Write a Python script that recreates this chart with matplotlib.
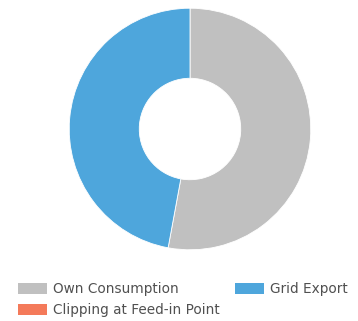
import matplotlib.pyplot as plt
from matplotlib.patches import Patch

# energy split shown in the donut (percent of PV yield)
labels = ["Own Consumption", "Clipping at Feed-in Point", "Grid Export"]
shares = [52.9, 0.0, 47.1]
colors = ["#c0c0c0", "#f47a5a", "#4ea6dc"]

W, H = 358, 321
fig = plt.figure(figsize=(W / 100, H / 100), dpi=100)

cx, cy, r = 190, 129, 122
ax = fig.add_axes([(cx - r) / W, (H - cy - r) / H, 2 * r / W, 2 * r / H])
ax.pie(
    [shares[0], shares[2]],
    colors=[colors[0], colors[2]],
    startangle=90,
    counterclock=False,
    radius=1,
    wedgeprops=dict(width=0.58, edgecolor="white", linewidth=0.6),
)
ax.set_xlim(-1.01, 1.01)
ax.set_ylim(-1.01, 1.01)
ax.set_aspect("equal")
ax.axis("off")

fs = 9.8
handles = [Patch(facecolor=c, edgecolor="none") for c in colors]
fig.legend(
    handles,
    labels,
    ncol=2,
    loc="upper left",
    bbox_to_anchor=(18 / W, 1 - 282 / H),
    borderaxespad=0,
    borderpad=0,
    frameon=False,
    fontsize=fs,
    handlelength=2.1,
    handleheight=0.85,
    handletextpad=0.5,
    columnspacing=1.1,
    labelspacing=0.55,
    labelcolor="#505050",
)

fig.savefig("out.png", dpi=100)
